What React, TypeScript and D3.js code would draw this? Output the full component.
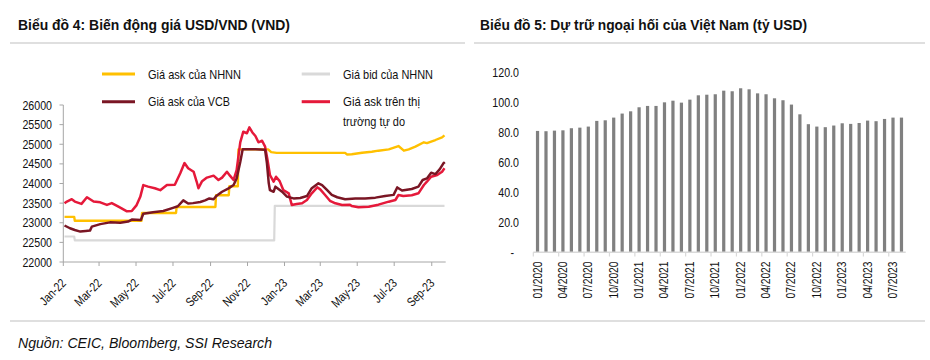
import React from 'react';
import * as d3 from 'd3';

const FONT = "'Liberation Sans', Arial, sans-serif";
const NARROW = 0.82;

// ---------- Chart 4: USD/VND ----------
const usdYTicks = [22000, 22500, 23000, 23500, 24000, 24500, 25000, 25500, 26000];
const usdXTickLabels = ['Jan-22', 'Mar-22', 'May-22', 'Jul-22', 'Sep-22', 'Nov-22', 'Jan-23', 'Mar-23', 'May-23', 'Jul-23', 'Sep-23'];
const usdXTickDates = ['2022-01-01', '2022-03-01', '2022-05-01', '2022-07-01', '2022-09-01', '2022-11-01', '2023-01-01', '2023-03-01', '2023-05-01', '2023-07-01', '2023-09-01'];

const nhnnBid: [string, number][] = [
  ['2022-01-03', 22650], ['2022-01-19', 22650], ['2022-01-20', 22550],
  ['2022-12-15', 22550], ['2022-12-16', 23430], ['2023-09-22', 23430],
];

const nhnnAsk: [string, number][] = [
  ['2022-01-03', 23150], ['2022-01-19', 23150], ['2022-01-20', 23050],
  ['2022-05-10', 23050], ['2022-05-11', 23250], ['2022-07-06', 23250],
  ['2022-07-07', 23400], ['2022-09-09', 23400], ['2022-09-10', 23700],
  ['2022-10-01', 23700], ['2022-10-02', 23930], ['2022-10-16', 23930],
  ['2022-10-17', 24870], ['2022-12-05', 24870], ['2022-12-10', 24800],
  ['2022-12-19', 24780], ['2023-04-11', 24780], ['2023-04-14', 24740],
  ['2023-04-22', 24745], ['2023-05-09', 24785], ['2023-05-25', 24810],
  ['2023-06-05', 24836], ['2023-06-22', 24870], ['2023-07-08', 24955],
  ['2023-07-17', 24836], ['2023-07-25', 24870], ['2023-08-05', 24940],
  ['2023-08-19', 25050], ['2023-08-24', 25030], ['2023-09-07', 25108],
  ['2023-09-18', 25177], ['2023-09-22', 25228],
];

const vcbAsk: [string, number][] = [
  ['2022-01-03', 22930], ['2022-01-12', 22860], ['2022-01-20', 22815],
  ['2022-01-29', 22775], ['2022-02-07', 22790], ['2022-02-14', 22800],
  ['2022-02-17', 22900], ['2022-03-03', 22965], ['2022-03-19', 23010],
  ['2022-04-05', 23000], ['2022-04-18', 23030], ['2022-04-24', 23080],
  ['2022-05-09', 23070], ['2022-05-13', 23230], ['2022-05-29', 23270],
  ['2022-06-15', 23300], ['2022-07-01', 23380], ['2022-07-09', 23420],
  ['2022-07-18', 23570], ['2022-07-26', 23490], ['2022-08-03', 23500],
  ['2022-08-15', 23530], ['2022-08-23', 23570], ['2022-08-30', 23620],
  ['2022-09-06', 23600], ['2022-09-11', 23690], ['2022-09-20', 23790],
  ['2022-09-30', 23870], ['2022-10-09', 23960], ['2022-10-14', 24130],
  ['2022-10-20', 24550], ['2022-10-24', 24870], ['2022-11-14', 24870],
  ['2022-11-30', 24860], ['2022-12-03', 24520], ['2022-12-06', 24010],
  ['2022-12-08', 23830], ['2022-12-14', 23790], ['2022-12-17', 23920],
  ['2022-12-22', 23860], ['2022-12-28', 23790], ['2023-01-05', 23665],
  ['2023-01-16', 23620], ['2023-01-27', 23630], ['2023-02-07', 23680],
  ['2023-02-15', 23880], ['2023-02-26', 24005], ['2023-03-04', 23960],
  ['2023-03-12', 23835], ['2023-03-20', 23710], ['2023-03-29', 23650],
  ['2023-04-11', 23600], ['2023-04-28', 23620], ['2023-05-14', 23620],
  ['2023-05-31', 23640], ['2023-06-16', 23680], ['2023-06-30', 23710],
  ['2023-07-06', 23900], ['2023-07-14', 23820], ['2023-07-30', 23860],
  ['2023-08-10', 23920], ['2023-08-17', 24090], ['2023-08-24', 24130],
  ['2023-08-31', 24275], ['2023-09-07', 24240], ['2023-09-14', 24360],
  ['2023-09-21', 24530], ['2023-09-22', 24500],
];

const freeMarketAsk: [string, number][] = [
  ['2022-01-03', 23495], ['2022-01-07', 23540], ['2022-01-15', 23600],
  ['2022-01-20', 23540], ['2022-01-31', 23480], ['2022-02-09', 23650],
  ['2022-02-20', 23540], ['2022-03-03', 23520], ['2022-03-14', 23455],
  ['2022-03-22', 23500], ['2022-04-02', 23410], ['2022-04-16', 23290],
  ['2022-04-24', 23300], ['2022-05-02', 23450], ['2022-05-08', 23660],
  ['2022-05-13', 23960], ['2022-05-21', 23920], ['2022-06-01', 23880],
  ['2022-06-10', 23830], ['2022-06-21', 23960], ['2022-07-04', 23970],
  ['2022-07-13', 24260], ['2022-07-20', 24520], ['2022-07-26', 24390],
  ['2022-08-04', 24300], ['2022-08-09', 24050], ['2022-08-12', 23880],
  ['2022-08-18', 24060], ['2022-08-26', 24150], ['2022-09-06', 24200],
  ['2022-09-14', 24090], ['2022-09-20', 24150], ['2022-09-28', 24300],
  ['2022-10-03', 24200], ['2022-10-09', 24090], ['2022-10-14', 24340],
  ['2022-10-20', 25050], ['2022-10-25', 25320], ['2022-10-31', 25280],
  ['2022-11-04', 25430], ['2022-11-09', 25300], ['2022-11-14', 25210],
  ['2022-11-19', 25050], ['2022-11-25', 25090], ['2022-11-30', 24940],
  ['2022-12-04', 24600], ['2022-12-08', 24216], ['2022-12-14', 24046],
  ['2022-12-18', 24173], ['2022-12-24', 24060], ['2022-12-30', 23834],
  ['2023-01-08', 23750], ['2023-01-13', 23452], ['2023-01-21', 23480],
  ['2023-01-30', 23495], ['2023-02-07', 23580], ['2023-02-15', 23750],
  ['2023-02-24', 23903], ['2023-03-01', 23850], ['2023-03-09', 23707],
  ['2023-03-17', 23560], ['2023-03-26', 23495], ['2023-04-06', 23452],
  ['2023-04-19', 23460], ['2023-04-22', 23427], ['2023-05-03', 23393],
  ['2023-05-20', 23410], ['2023-06-05', 23461], ['2023-06-22', 23537],
  ['2023-07-03', 23580], ['2023-07-08', 23707], ['2023-07-16', 23681],
  ['2023-07-30', 23700], ['2023-08-10', 23750], ['2023-08-19', 23962],
  ['2023-08-24', 24046], ['2023-08-31', 24173], ['2023-09-10', 24216],
  ['2023-09-18', 24301], ['2023-09-22', 24386],
];

const legendItems: { label: string[]; color: string; lx: number; ly: number; widths: number[] }[] = [
  { label: ['Giá ask của NHNN'], color: '#FFC000', lx: 102, ly: 74, widths: [93] },
  { label: ['Giá ask của VCB'], color: '#7A1624', lx: 102, ly: 101.7, widths: [82] },
  { label: ['Giá bid của NHNN'], color: '#D9D9D9', lx: 301.7, ly: 74, widths: [90] },
  { label: ['Giá ask trên thị', 'trường tự do'], color: '#E5193A', lx: 301.7, ly: 101.7, widths: [77, 62] },
];

// ---------- Chart 5: FX reserves ----------
const reserveMonths = [
  '01/2020', '02/2020', '03/2020', '04/2020', '05/2020', '06/2020', '07/2020', '08/2020', '09/2020', '10/2020', '11/2020', '12/2020',
  '01/2021', '02/2021', '03/2021', '04/2021', '05/2021', '06/2021', '07/2021', '08/2021', '09/2021', '10/2021', '11/2021', '12/2021',
  '01/2022', '02/2022', '03/2022', '04/2022', '05/2022', '06/2022', '07/2022', '08/2022', '09/2022', '10/2022', '11/2022', '12/2022',
  '01/2023', '02/2023', '03/2023', '04/2023', '05/2023', '06/2023', '07/2023', '08/2023',
];
const reserveValues = [
  81.1, 80.9, 81.3, 81.5, 82.9, 83.3, 84.0, 87.8, 88.2, 90.0, 92.7, 94.2,
  96.9, 97.8, 97.8, 100.2, 101.3, 100.0, 102.0, 104.9, 105.3, 105.6, 108.0, 107.6,
  109.6, 108.9, 106.2, 105.6, 102.9, 101.6, 98.7, 92.2, 85.6, 84.0, 83.6, 84.7,
  86.2, 85.8, 86.4, 88.0, 87.6, 89.1, 90.0, 90.0,
];
const reserveYTicks = [0, 20, 40, 60, 80, 100, 120];

const COL_YELLOW = '#FFC000';
const COL_MAROON = '#7A1624';
const COL_RED = '#E5193A';
const COL_GRAY = '#D9D9D9';
const COL_BAR = '#808080';
const AXIS = '#A6A6A6';
const INK = '#111';

// narrow text: Liberation Sans squeezed horizontally
function NText(props: { x: number; y: number; rot?: number; size: number; anchor?: string; children: React.ReactNode; dy?: string }) {
  const { x, y, rot = 0, size, anchor = 'start', children, dy } = props;
  return (
    <text transform={`translate(${x},${y}) rotate(${rot}) scale(${NARROW},1)`} fontSize={size} textAnchor={anchor} dy={dy} fill={INK}>
      {children}
    </text>
  );
}

export default function App() {
  const parse = d3.timeParse('%Y-%m-%d');
  const x = d3.scaleTime()
    .domain([parse('2022-01-01') as Date, parse('2023-09-24') as Date])
    .range([63.3, 445.7]);
  const y = d3.scaleLinear().domain([22000, 26000]).range([262, 105]);
  const line = d3.line<[string, number]>()
    .x((d) => x(parse(d[0]) as Date))
    .y((d) => y(d[1]));

  const xb = d3.scaleBand<string>().domain(reserveMonths).range([533.3, 905.7]).paddingInner(0.62).paddingOuter(0.31);
  const yb = d3.scaleLinear().domain([0, 120]).range([252.3, 72.7]);
  const step = xb.step();
  const x0 = 533.3;

  const series: { data: [string, number][]; color: string; w: number }[] = [
    { data: nhnnBid, color: COL_GRAY, w: 2.2 },
    { data: nhnnAsk, color: COL_YELLOW, w: 2.4 },
    { data: freeMarketAsk, color: COL_RED, w: 2.5 },
    { data: vcbAsk, color: COL_MAROON, w: 2.5 },
  ];

  return (
    <svg width={930} height={360} style={{ position: 'absolute', left: 0, top: 0, background: '#fff' }} fontFamily={FONT}>
      {/* Titles */}
      <text x={18} y={29.5} fontSize={15.5} fontWeight="bold" fill={INK} textLength={272} lengthAdjust="spacingAndGlyphs">Biểu đồ 4: Biến động giá USD/VND (VND)</text>
      <line x1={10} x2={465} y1={43} y2={43} stroke="#BFBFBF" strokeWidth={1} />
      <text x={480} y={29.5} fontSize={15.5} fontWeight="bold" fill={INK} textLength={327} lengthAdjust="spacingAndGlyphs">Biểu đồ 5: Dự trữ ngoại hối của Việt Nam (tỷ USD)</text>
      <line x1={474} x2={925} y1={43} y2={43} stroke="#BFBFBF" strokeWidth={1} />

      {/* Chart 4 legend */}
      {legendItems.map((it) => (
        <g key={it.label[0]}>
          <line x1={it.lx} x2={it.lx + (it.lx > 200 ? 28.3 : 33)} y1={it.ly} y2={it.ly} stroke={it.color} strokeWidth={3} />
          {it.label.map((t, j) => (
            <text key={t} x={it.lx + (it.lx > 200 ? 41.3 : 46)} y={it.ly + j * 20} dy="0.35em" fontSize={13.5} fill={INK}
              textLength={it.widths[j]} lengthAdjust="spacingAndGlyphs">{t}</text>
          ))}
        </g>
      ))}

      {/* Chart 4 axes */}
      <line x1={63.3} x2={63.3} y1={105} y2={262} stroke={AXIS} strokeWidth={1} />
      {usdYTicks.map((t) => (
        <g key={t}>
          <line x1={59.5} x2={63.3} y1={y(t)} y2={y(t)} stroke={AXIS} strokeWidth={1} />
          <NText x={52} y={y(t)} dy="0.35em" anchor="end" size={13}>{t}</NText>
        </g>
      ))}
      <line x1={63.3} x2={445.7} y1={262} y2={262} stroke={AXIS} strokeWidth={1} />
      {usdXTickDates.map((d, i) => {
        const xx = x(parse(d) as Date);
        return (
          <g key={d}>
            <line x1={xx} x2={xx} y1={262} y2={266} stroke={AXIS} strokeWidth={1} />
            <NText x={xx + 3.5} y={284} rot={-45} anchor="end" size={12.5}>{usdXTickLabels[i]}</NText>
          </g>
        );
      })}

      {/* Chart 4 lines */}
      {series.map((s, i) => (
        <path key={i} d={line(s.data) || ''} fill="none" stroke={s.color} strokeWidth={s.w} strokeLinejoin="round" />
      ))}

      {/* Chart 5 */}
      {reserveYTicks.map((t) => (
        <NText key={t} x={t === 0 ? 514 : 519} y={yb(t)} dy="0.35em" anchor="end" size={13}>
          {t === 0 ? '-' : t.toFixed(1)}
        </NText>
      ))}
      {reserveMonths.map((m, i) => (
        <rect key={m} x={xb(m)} y={yb(reserveValues[i])} width={xb.bandwidth()} height={yb(0) - yb(reserveValues[i])} fill={COL_BAR} />
      ))}
      <line x1={533.3} x2={905.7} y1={252.3} y2={252.3} stroke={COL_GRAY} strokeWidth={1.5} />
      {reserveMonths.map((m, i) => (i % 3 === 0 ? (
        <g key={m}>
          <line x1={x0 + i * step} x2={x0 + i * step} y1={252.3} y2={256.5} stroke={COL_GRAY} strokeWidth={1.2} />
          <NText x={x0 + (i + 0.5) * step + 4} y={261.5} rot={-90} anchor="end" size={12.5}>{m}</NText>
        </g>
      ) : null))}

      {/* Footer */}
      <line x1={10} x2={925} y1={321} y2={321} stroke="#BFBFBF" strokeWidth={1} />
      <text x={18} y={348} fontSize={15.5} fontStyle="italic" fill={INK} textLength={254} lengthAdjust="spacingAndGlyphs">Nguồn: CEIC, Bloomberg, SSI Research</text>
    </svg>
  );
}
